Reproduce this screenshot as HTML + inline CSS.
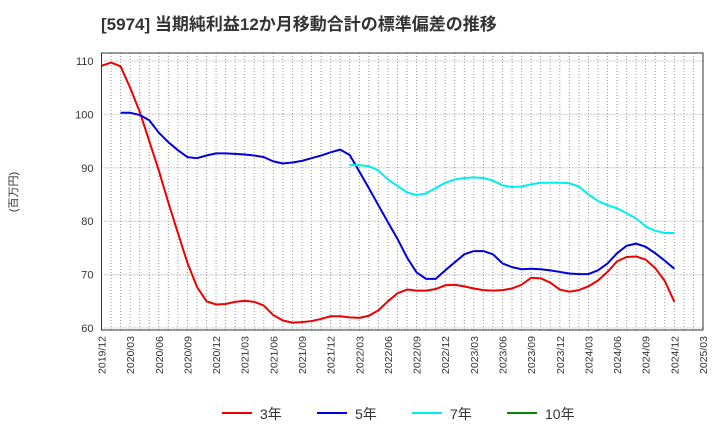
<!DOCTYPE html>
<html><head><meta charset="utf-8"><style>
body{margin:0;background:#fff;width:720px;height:440px;overflow:hidden}
svg{font-family:"Liberation Sans","Noto Sans CJK JP",sans-serif}
</style></head><body>
<svg id="c" width="720" height="440" xmlns="http://www.w3.org/2000/svg">
<text x="101" y="30" font-size="17" font-weight="bold" fill="#333">[5974]  当期純利益12か月移動合計の標準偏差の推移</text>
<text transform="translate(17,192) rotate(-90)" font-size="11" fill="#333" text-anchor="middle">(百万円)</text>
<g id="grid"></g><g id="series"></g><g id="axes"></g>
<g>
<g><line x1="222" y1="413" x2="252" y2="413" stroke="#e00" stroke-width="2"/><text x="260" y="419" font-size="14" fill="#333">3年</text></g>
<g><line x1="317" y1="413" x2="347" y2="413" stroke="#00d" stroke-width="2"/><text x="355" y="419" font-size="14" fill="#333">5年</text></g>
<g><line x1="412" y1="413" x2="442" y2="413" stroke="#0ee" stroke-width="2"/><text x="450" y="419" font-size="14" fill="#333">7年</text></g>
<g><line x1="507" y1="413" x2="537" y2="413" stroke="#080" stroke-width="2"/><text x="545" y="419" font-size="14" fill="#333">10年</text></g>
</g>
</svg>
<script>
const xLabels=["2019/12","2020/03","2020/06","2020/09","2020/12","2021/03","2021/06","2021/09","2021/12","2022/03","2022/06","2022/09","2022/12","2023/03","2023/06","2023/09","2023/12","2024/03","2024/06","2024/09","2024/12","2025/03"];
const yTicks=[60,70,80,90,100,110];
const s3=[109.1,109.7,109,105,100.5,95,89.5,83.5,77.8,72.2,67.7,65,64.4,64.5,64.9,65.1,64.9,64.2,62.4,61.4,61,61.1,61.3,61.7,62.2,62.2,62,61.9,62.3,63.3,65,66.5,67.2,67,67,67.3,68,68.1,67.8,67.4,67.1,67,67.1,67.4,68.1,69.4,69.3,68.5,67.2,66.8,67.1,67.8,68.9,70.5,72.5,73.3,73.4,72.8,71.2,68.8,64.9];
const s5Start=2;
const s5=[100.3,100.3,99.9,98.9,96.6,94.8,93.3,92,91.8,92.3,92.7,92.7,92.6,92.5,92.3,92,91.2,90.8,91,91.3,91.8,92.3,92.9,93.4,92.4,89.3,86.2,83,79.8,76.7,73.2,70.4,69.2,69.2,70.8,72.3,73.8,74.4,74.4,73.8,72.1,71.4,71,71.1,71,70.8,70.5,70.2,70.1,70.1,70.8,72.1,74,75.4,75.8,75.2,74,72.6,71.1];
const s7Start=26;
const s7=[90.5,90.5,90.3,89.5,87.8,86.6,85.4,84.9,85.2,86.2,87.2,87.8,88.1,88.2,88.1,87.6,86.7,86.4,86.5,86.9,87.2,87.2,87.2,87.1,86.5,85,83.8,83,82.4,81.5,80.5,79,78.2,77.8,77.8];
const s10=[];
const L=101.5,R=703,T=53,B=330,NM=63;
const X=i=>L+(R-L)*i/NM;
const Y=v=>328-(v-60)*(328-61)/50;
const NS="http://www.w3.org/2000/svg";
function mk(t,a,p){const e=document.createElementNS(NS,t);for(const k in a)e.setAttribute(k,a[k]);p.appendChild(e);return e;}
const g=document.getElementById('grid'),ax=document.getElementById('axes'),sg=document.getElementById('series');
for(let i=1;i<NM;i++){const l=mk('line',{x1:X(i),x2:X(i),y1:T,y2:B,stroke:'#999','stroke-width':1,'stroke-dasharray':'1,2'},g);

}
yTicks.forEach(v=>{const l=mk('line',{x1:L,x2:R,y1:Y(v),y2:Y(v),stroke:'#999','stroke-width':1,'stroke-dasharray':'1,2'},g);


const t=mk('text',{x:L-8,y:Y(v)+4,'font-size':11,fill:'#333','text-anchor':'end'},ax);t.textContent=v;

});
const fr=mk('rect',{x:L,y:T,width:R-L,height:B-T,fill:'none',stroke:'#333','stroke-width':1},ax);


xLabels.forEach((s,k)=>{const x=X(k*3);const t=mk('text',{transform:`translate(${x+4},${B+6}) rotate(-90)`,'font-size':10.5,fill:'#333','text-anchor':'end'},ax);t.textContent=s;

});
function line(arr,st,col,name){if(!arr.length)return;const p=mk('polyline',{points:arr.map((v,i)=>X(i+st)+','+Y(v)).join(' '),fill:'none',stroke:col,'stroke-width':2,'stroke-linejoin':'round'},sg);

}
line(s3,0,'#e00','series-3y');
line(s5,s5Start,'#00d','series-5y');
line(s7,s7Start,'#0ee','series-7y');
line(s10,0,'#080','series-10y');
</script>
</body></html>
